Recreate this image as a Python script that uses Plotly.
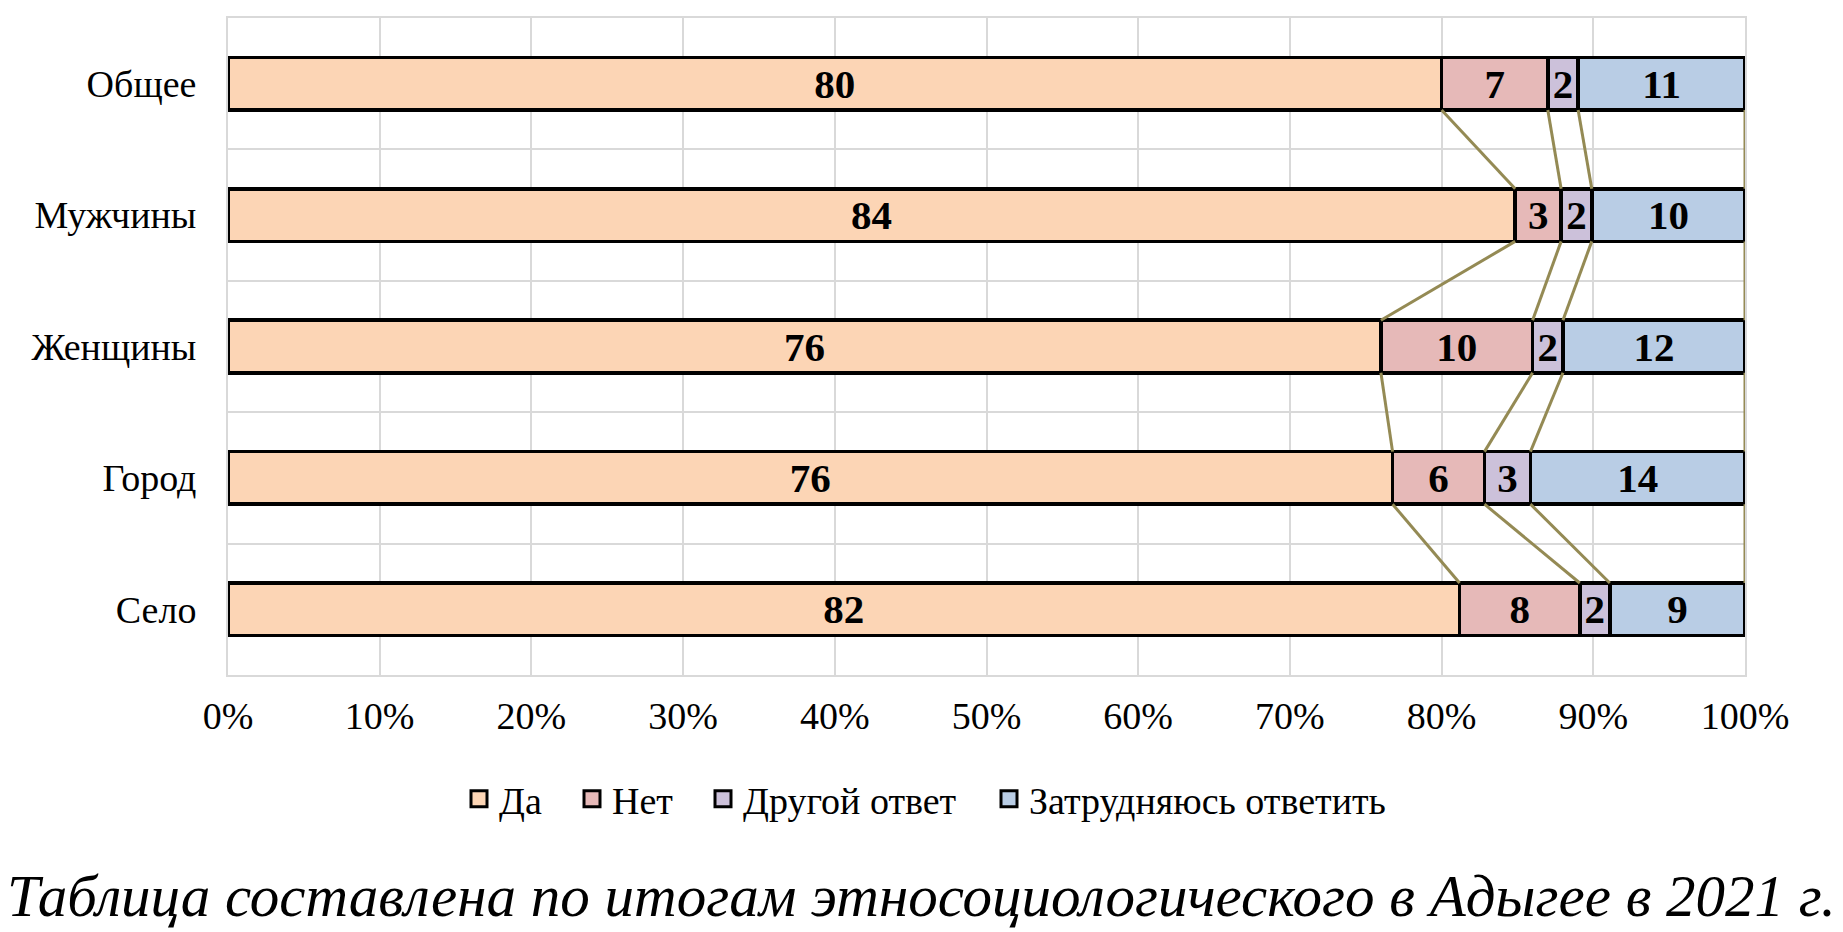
import plotly.graph_objects as go
import numpy as np

categories = ["Общее", "Мужчины", "Женщины", "Город", "Село"]
series_names = ["Да", "Нет", "Другой ответ", "Затрудняюсь ответить"]
da = [80, 84, 76, 76, 82]
net = [7, 3, 10, 6, 8]
drugoy = [2, 2, 2, 3, 2]
zatrud = [11, 10, 12, 14, 9]
colors = ["#FCD5B5", "#E6B9B8", "#CCC1DA", "#B9CDE5"]
x_ticks = [0, 10, 20, 30, 40, 50, 60, 70, 80, 90, 100]
x_tick_labels = ["0%", "10%", "20%", "30%", "40%", "50%", "60%", "70%", "80%", "90%", "100%"]
caption = "Таблица составлена по итогам этносоциологического в Адыгее в 2021 г."

FONT = "Liberation Serif"
series = [da, net, drugoy, zatrud]
ypos = list(range(len(categories)))
BAR_W = 0.4

# page body has an 8px margin: plot area wanted at x 228..1745, y 18..675 on screen
ML, MR, MT, MB = 220, 106, 10, 265
PW = 1843 - ML - MR
PH = 932 - MT - MB
PLOT_X0 = ML + 8
PLOT_Y1 = 932 - MB + 8


def px_to_paper_x(px):
    return (px - PLOT_X0) / PW


def px_to_paper_y(py):
    return (PLOT_Y1 - py) / PH


fig = go.Figure()
for name, vals, col in zip(series_names, series, colors):
    fig.add_trace(go.Bar(
        y=ypos, x=vals, name=name, orientation="h",
        width=BAR_W, showlegend=False,
        marker=dict(color=col, line=dict(color="black", width=3.5)),
        text=vals, textposition="inside", insidetextanchor="middle",
        textangle=0,
        texttemplate="<b>%{text}</b>",
        textfont=dict(family=FONT, size=41, color="black"),
        hoverinfo="skip",
    ))

# legend entries, one legend each, positioned like the reference
legend_left_px = [471, 584, 715, 1001]
legend_names = ["legend", "legend2", "legend3", "legend4"]
legend_layout = {}
for name, col, lg, lpx in zip(series_names, colors, legend_names, legend_left_px):
    fig.add_trace(go.Scatter(
        x=[None], y=[None], mode="markers", name=name, legend=lg,
        marker=dict(symbol="square", size=17, color=col, line=dict(color="black", width=3)),
        hoverinfo="skip",
    ))
    legend_layout[lg] = dict(
        x=px_to_paper_x(lpx - 12), xanchor="left",
        y=px_to_paper_y(799), yanchor="middle",
        orientation="h", font=dict(family=FONT, size=38, color="black"),
        itemclick=False, itemdoubleclick=False, itemwidth=30,
        bgcolor="rgba(0,0,0,0)", borderwidth=0,
    )

# series lines (connecting stacked segment boundaries between adjacent bars)
arr = np.array(series, dtype=float)
pct = arr / arr.sum(axis=0) * 100.0
cum = np.cumsum(pct, axis=0)
lx, ly = [], []
for k in range(cum.shape[0]):
    for i in range(len(categories) - 1):
        lx += [cum[k, i], cum[k, i + 1], None]
        ly += [i + BAR_W / 2, i + 1 - BAR_W / 2, None]
fig.add_trace(go.Scatter(x=lx, y=ly, mode="lines",
                         line=dict(color="#948A54", width=3),
                         showlegend=False, hoverinfo="skip"))

fig.update_layout(
    barmode="stack", barnorm="percent",
    width=1843, height=932,
    margin=dict(l=ML, r=MR, t=MT, b=MB, autoexpand=False),
    paper_bgcolor="white", plot_bgcolor="white",
    font=dict(family=FONT, size=38, color="black"),
    uniformtext=dict(minsize=41, mode="show"),
    annotations=[dict(text="<i>" + caption + "</i>", xref="paper", yref="paper",
                      x=px_to_paper_x(921),
                      y=px_to_paper_y(896), xanchor="center", yanchor="middle",
                      showarrow=False,
                      font=dict(family=FONT, size=59, color="black"))],
    **legend_layout,
)
fig.update_xaxes(range=[0, 100], tickmode="array", tickvals=x_ticks, ticktext=x_tick_labels,
                 showgrid=True, gridcolor="#D9D9D9", gridwidth=2, automargin=False,
                 zeroline=False, showline=True, linecolor="#D9D9D9", linewidth=2, mirror=True,
                 ticklabelstandoff=6, tickfont=dict(family=FONT, size=38, color="black"),
                 fixedrange=True)
fig.update_yaxes(range=[len(categories) - 0.5, -0.5], tickmode="array", tickvals=ypos,
                 ticktext=categories, automargin=False,
                 showgrid=False, zeroline=False,
                 minor=dict(tick0=0.5, dtick=1, showgrid=True, gridcolor="#D9D9D9", gridwidth=2),
                 showline=True, linecolor="#D9D9D9", linewidth=2, mirror=True,
                 ticklabelstandoff=22, tickfont=dict(family=FONT, size=38, color="black"),
                 fixedrange=True)

fig.write_html("out.html")
